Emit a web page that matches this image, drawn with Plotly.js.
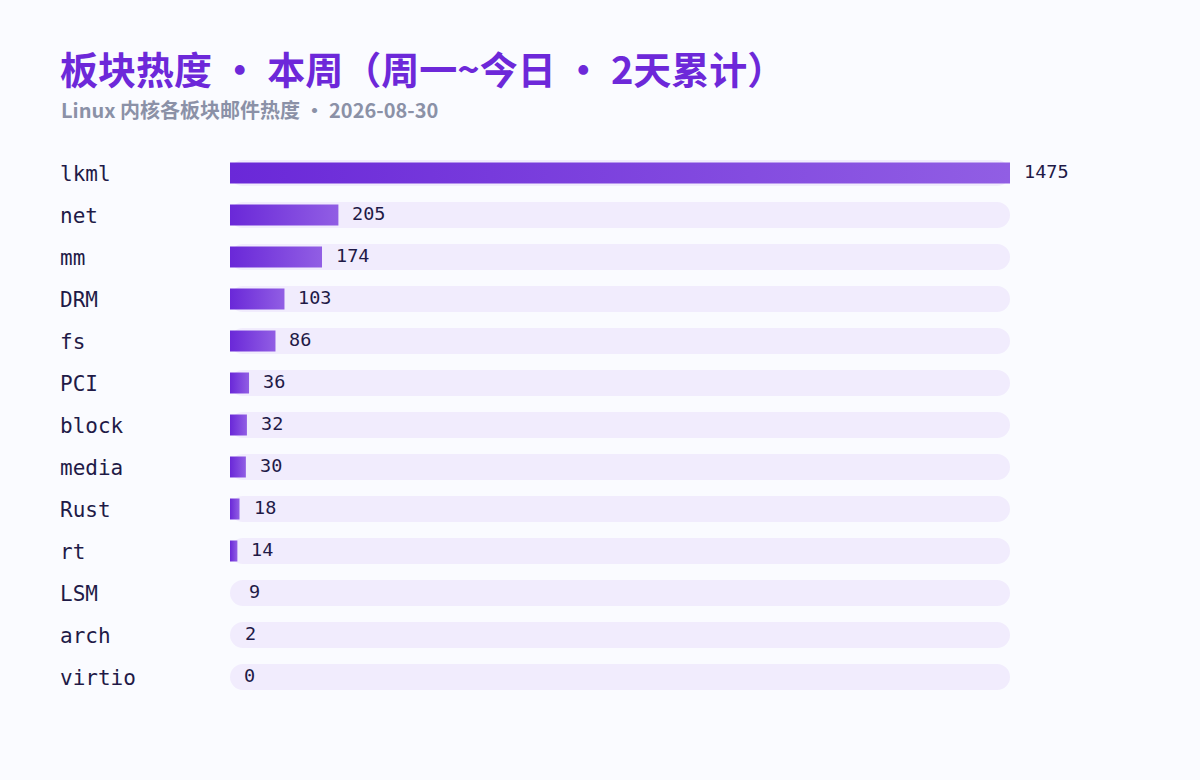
<!DOCTYPE html>
<html>
<head>
<meta charset="utf-8">
<script src="https://cdn.plot.ly/plotly-3.0.1.min.js"></script>
<style>
  html, body { margin: 0; padding: 0; background: #fafbff; }
  #plot { width: 1200px; height: 780px; }
</style>
</head>
<body>
<div id="plot"></div>
<script>
// Board names and weekly mail counts (Mon ~ today, 2 days)
let boards = ["lkml", "net", "mm", "DRM", "fs", "PCI", "block", "media", "Rust", "rt", "LSM", "arch", "virtio"]
let counts = [1475, 205, 174, 103, 86, 36, 32, 30, 18, 14, 9, 2, 0]

let titleText = "板块热度 · 本周（周一~今日 · 2天累计）"
let subtitleText = "Linux 内核各板块邮件热度 · 2026-08-30"

// Plot area in pixels
let W = 1200, H = 780
let mL = 230, mR = 190, mT = 152, mB = 82
let plotW = W - mL - mR
let plotH = H - mT - mB
let maxVal = Math.max(...counts)

function px(xPix) { return (xPix - mL) / plotW }
function py(yPix) { return 1 - (yPix - mT) / plotH }

let mono = "DejaVu Sans Mono, monospace"
let cjk = "Noto Sans CJK SC, Noto Sans, sans-serif"

let data = []

// Track pill behind every bar, full length
data.push({
  type: "bar", orientation: "h", y: boards, x: boards.map(() => maxVal), base: 0,
  width: 0.62, marker: { color: "#f1ecfd", cornerradius: "50%" },
  hoverinfo: "skip", showlegend: false
})

// Gradient bars, one filled polygon per board
for (let i = 0; i < boards.length; i++) {
  let v = counts[i]
  if (v < 10) continue
  data.push({
    type: "scatter", mode: "lines",
    x: [0, v, v, 0, 0],
    y: [i - 0.25, i - 0.25, i + 0.25, i + 0.25, i - 0.25],
    yaxis: "y2",
    fill: "toself",
    fillgradient: { type: "horizontal", colorscale: [[0, "#6a28d8"], [1, "#915ee4"]] },
    line: { width: 0 },
    hoverinfo: "skip", showlegend: false
  })
}

let annotations = []

// Category labels on the left
boards.forEach((b, i) => {
  annotations.push({
    text: b, xref: "paper", x: px(58), xanchor: "left",
    yref: "y", y: b, yanchor: "middle", yshift: -1,
    showarrow: false, font: { family: mono, size: 21, color: "#1f1a47" }
  })
})

// Value labels after each bar
counts.forEach((v, i) => {
  annotations.push({
    text: String(v), xref: "x", x: v, xanchor: "left", xshift: 12,
    yref: "y", y: boards[i], yanchor: "middle", yshift: 2,
    showarrow: false, font: { family: mono, size: 18.5, color: "#1f1a47" }
  })
})

// Title and subtitle
annotations.push({
  text: "<b>" + titleText + "</b>", xref: "paper", x: px(58), xanchor: "left",
  yref: "paper", y: py(67), yanchor: "middle", height: 44,
  showarrow: false, font: { family: cjk, size: 38, color: "#6d28d9" }
})
annotations.push({
  text: "<b>" + subtitleText + "</b>", xref: "paper", x: px(59), xanchor: "left",
  yref: "paper", y: py(109), yanchor: "middle", height: 24,
  showarrow: false, font: { family: cjk, size: 20, color: "#8b91a7" }
})

let layout = {
  width: W, height: H,
  margin: { l: mL, r: mR, t: mT, b: mB },
  paper_bgcolor: "#fafbff", plot_bgcolor: "#fafbff",
  barmode: "overlay",
  showlegend: false,
  xaxis: { range: [0, maxVal], visible: false, fixedrange: true },
  yaxis: {
    type: "category", categoryorder: "array", categoryarray: boards,
    range: [boards.length - 0.5, -0.5], visible: false
  },
  yaxis2: {
    overlaying: "y", range: [boards.length - 0.5, -0.5], visible: false
  },
  annotations: annotations
}

Plotly.newPlot("plot", data, layout, { displayModeBar: false, staticPlot: true })
</script>
</body>
</html>
